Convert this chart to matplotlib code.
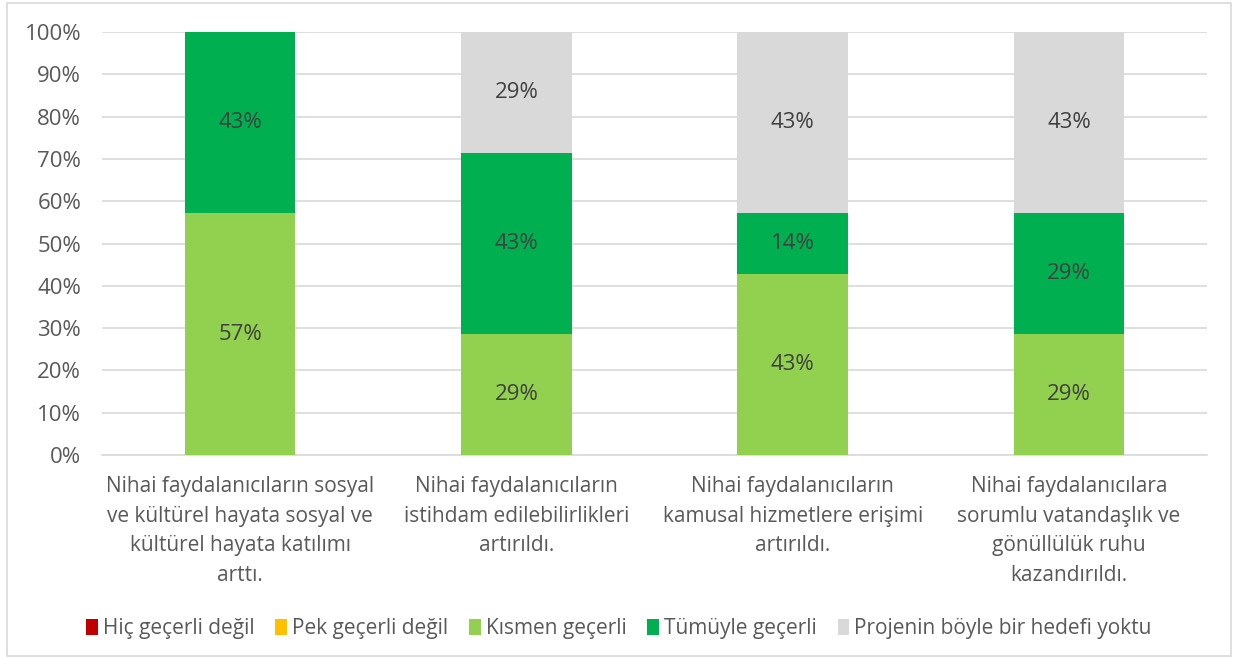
import matplotlib.pyplot as plt
import numpy as np
from matplotlib.patches import Rectangle

plt.rcParams['font.family'] = ['Open Sans', 'DejaVu Sans']

categories = [
    "Nihai faydalanıcıların sosyal\nve kültürel hayata sosyal ve\nkültürel hayata katılımı\narttı.",
    "Nihai faydalanıcıların\nistihdam edilebilirlikleri\nartırıldı.",
    "Nihai faydalanıcıların\nkamusal hizmetlere erişimi\nartırıldı.",
    "Nihai faydalanıcılara\nsorumlu vatandaşlık ve\ngönüllülük ruhu\nkazandırıldı.",
]
series_names = ["Hiç geçerli değil", "Pek geçerli değil", "Kısmen geçerli",
                "Tümüyle geçerli", "Projenin böyle bir hedefi yoktu"]
hic = [0, 0, 0, 0]
pek = [0, 0, 0, 0]
kismen = [57.1, 28.6, 42.9, 28.6]
tumuyle = [42.9, 42.9, 14.3, 28.6]
proje = [0, 28.6, 42.9, 42.9]
colors = ['#C00000', '#FFC000', '#92D050', '#00B050', '#D9D9D9']

fig = plt.figure(figsize=(12.38, 6.59), dpi=100)
ax = fig.add_axes([0.0824, 0.3096, 0.8926, 0.6418])

x = np.arange(len(categories))
bottom = np.zeros(len(categories))
for name, vals, col in zip(series_names, [hic, pek, kismen, tumuyle, proje], colors):
    vals = np.array(vals, dtype=float)
    ax.bar(x, vals, 0.4, bottom=bottom, color=col, label=name, zorder=3)
    for xi, v, b in zip(x, vals, bottom):
        if v > 0:
            ax.text(xi, b + v / 2, f"{v:.0f}%", ha='center', va='center',
                    fontsize=16, color='#404040', zorder=4)
    bottom += vals

ax.set_xlim(-0.5, len(categories) - 0.5)
ax.set_ylim(0, 100)
ax.set_yticks(np.arange(0, 101, 10))
ax.set_yticklabels([f"{t}%" for t in range(0, 101, 10)], fontsize=16, color='#595959')
ax.set_xticks(x)
ax.set_xticklabels(categories, fontsize=15, color='#595959', linespacing=1.55)
ax.tick_params(axis='y', length=0, pad=15)
ax.tick_params(axis='x', length=0, pad=15)
ax.grid(axis='y', color='#D9D9D9', linewidth=1.2, zorder=0)
for s in ['top', 'right', 'left']:
    ax.spines[s].set_visible(False)
ax.spines['bottom'].set_color('#D9D9D9')
ax.spines['bottom'].set_linewidth(1.2)

fig.legend(loc='center', bbox_to_anchor=(0.5, 0.046), ncol=5, frameon=False,
           fontsize=15, labelcolor='#595959', handlelength=0.55, handleheight=0.8,
           handletextpad=0.25, columnspacing=1.0)

fig.patches.append(Rectangle((0.006, 0.005), 0.988, 0.99, transform=fig.transFigure,
                             fill=False, edgecolor='#D9D9D9', linewidth=1.2))

fig.savefig('out.png', dpi=100)
